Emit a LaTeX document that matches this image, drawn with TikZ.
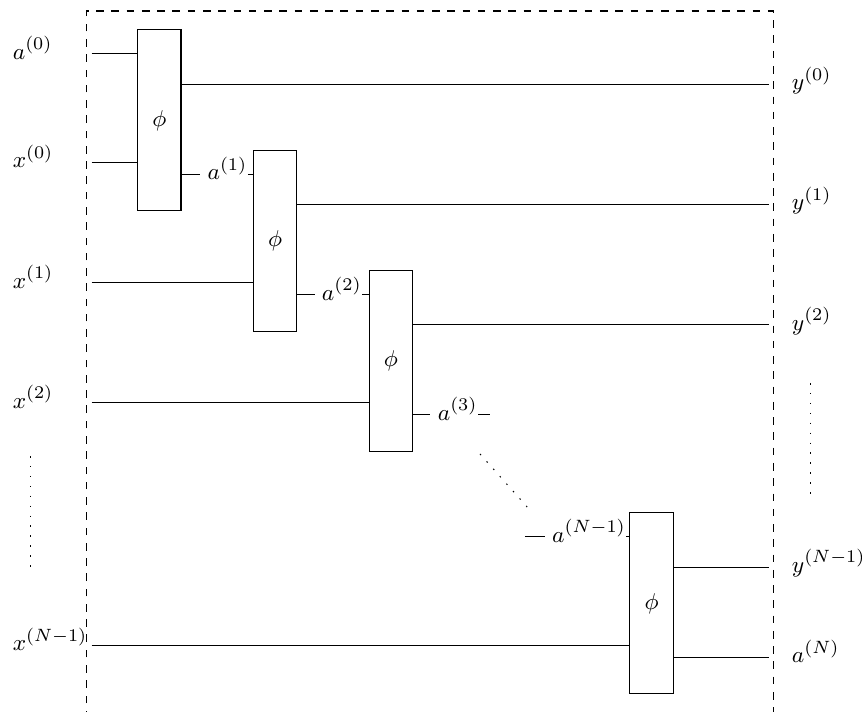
\documentclass[tikz,border=0pt]{standalone}
\usepackage{amsmath,amssymb}
\usepackage{tikz}

\begin{document}
\begin{tikzpicture}[
    cell/.style={rectangle, draw, minimum width=0.6cm, minimum height=2.5cm, inner sep=0pt,
        font=\fontsize{9.5}{11}\selectfont},
    lbl/.style={anchor=mid west, inner sep=0pt, font=\fontsize{9.5}{11}\selectfont},
    dotline/.style={dash pattern=on 0.6pt off 3.3pt}
]
    \useasboundingbox (0,0) rectangle (11.906,9.834);
    \draw[dashed] (1.188,-0.3) |- (10.69,9.682) -- (10.69,-0.3);

    \node[cell] (b1) at (2.2,8.17) {$\phi$};
    \node[cell] (b2) at (3.8,6.51) {$\phi$};
    \node[cell] (b3) at (5.4,4.85) {$\phi$};
    \node[cell] (b4) at (9.0,1.5) {$\phi$};

    % inputs
    \node[lbl] (a0) at (0.17,9.09) {$a^{(0)}$};
    \node[lbl] (x0) at (0.17,7.59) {$x^{(0)}$};
    \node[lbl] (x1) at (0.17,5.93) {$x^{(1)}$};
    \node[lbl] (x2) at (0.17,4.27) {$x^{(2)}$};
    \node[lbl] (xN1) at (0.17,0.92) {$x^{(N-1)}$};

    % outputs
    \node[lbl] (y0) at (10.93,8.67) {$y^{(0)}$};
    \node[lbl] (y1) at (10.93,7.01) {$y^{(1)}$};
    \node[lbl] (y2) at (10.93,5.35) {$y^{(2)}$};
    \node[lbl] (yN1) at (10.93,2.0) {$y^{(N-1)}$};
    \node[lbl] (aN) at (10.93,0.755) {$a^{(N)}$};

    % states between the cells
    \node[lbl] (a1) at (2.86,7.425) {$a^{(1)}$};
    \node[lbl] (a2) at (4.44,5.765) {$a^{(2)}$};
    \node[lbl] (a3) at (6.04,4.105) {$a^{(3)}$};
    \node[lbl] (aN1) at (7.62,2.42) {$a^{(N-1)}$};

    \coordinate (fl) at (1.266,0);
    \coordinate (fr) at (10.62,0);

    \draw (fl |- a0.mid) -- (b1.west |- a0.mid);
    \draw (fl |- x0.mid) -- (b1.west |- x0.mid);
    \draw (fl |- x1.mid) -- (b2.west |- x1.mid);
    \draw (fl |- x2.mid) -- (b3.west |- x2.mid);
    \draw (fl |- xN1.mid) -- (b4.west |- xN1.mid);

    \draw (b1.east |- y0.mid) -- (fr |- y0.mid);
    \draw (b2.east |- y1.mid) -- (fr |- y1.mid);
    \draw (b3.east |- y2.mid) -- (fr |- y2.mid);
    \draw (b4.east |- yN1.mid) -- (fr |- yN1.mid);
    \draw (b4.east |- aN.mid) -- (fr |- aN.mid);

    \draw[shorten >=2.7pt] (b1.east |- a1.mid) -- (a1.mid west);
    \draw (a1.mid east) -- (b2.west |- a1.mid);
    \draw[shorten >=2.7pt] (b2.east |- a2.mid) -- (a2.mid west);
    \draw (a2.mid east) -- (b3.west |- a2.mid);
    \draw[shorten >=2.7pt] (b3.east |- a3.mid) -- (a3.mid west);
    \coordinate (a3r) at ([xshift=0.16cm]a3.mid east);
    \draw (a3.mid east) -- (a3r);
    \coordinate (aN1l) at (7.25,2.42);
    \draw[shorten >=2.7pt] (aN1l) -- (aN1.mid west);
    \draw (aN1.mid east) -- (b4.west |- aN1.mid);

    % dots
    \draw[dotline] (0.428,3.536) -- (0.428,2.003);
    \draw[dotline] (11.2,4.544) -- (11.2,3.011);
    \draw[dotline] (6.63,3.564) -- (7.293,2.818);
\end{tikzpicture}
\end{document}
